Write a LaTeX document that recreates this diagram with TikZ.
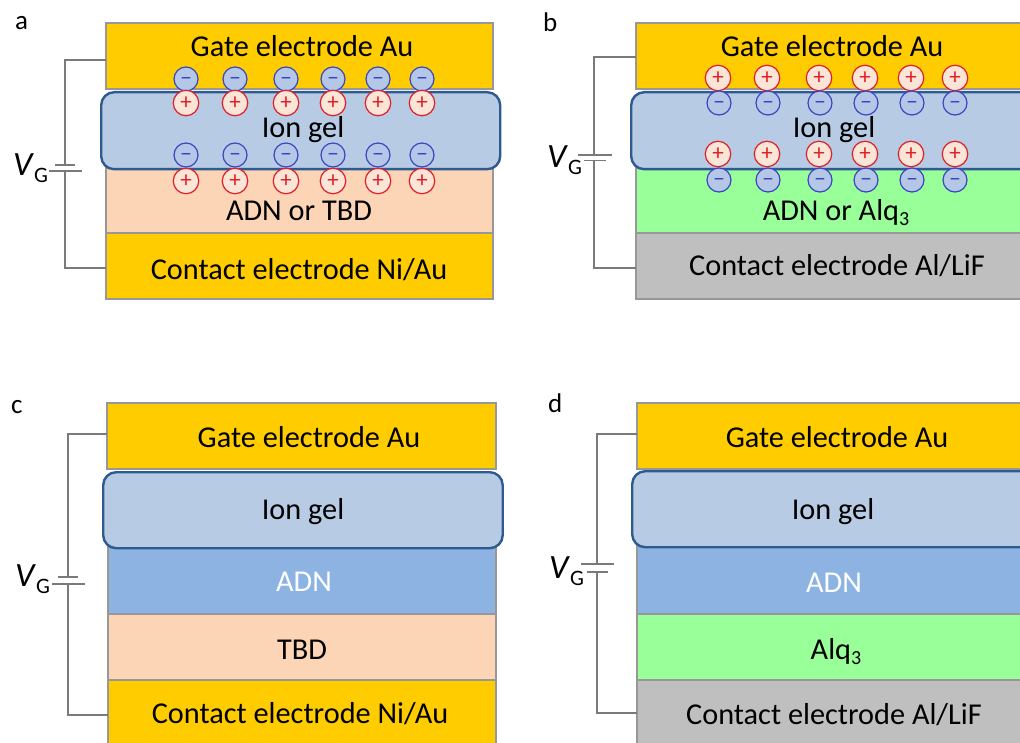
\documentclass[tikz,border=0pt]{standalone}
\usepackage{fontspec}
\setmainfont{Carlito}
\definecolor{gold}{HTML}{FFCC00}
\definecolor{gelfill}{HTML}{B7CBE4}
\definecolor{geledge}{HTML}{2F5A8F}
\definecolor{peach}{HTML}{FBD5B5}
\definecolor{mint}{HTML}{99FF99}
\definecolor{greylayer}{HTML}{BFBFBF}
\definecolor{adnblue}{HTML}{8DB3E2}
\definecolor{edgegrey}{HTML}{989898}
\definecolor{wiregrey}{HTML}{7A7A7A}
\definecolor{ionred}{HTML}{E0202A}
\definecolor{ionblue}{HTML}{3A45C0}
\definecolor{posfill}{HTML}{FBE5D6}
\definecolor{negfill}{HTML}{B4C7E7}
\tikzset{
  x=1pt,y=-1pt,
  layer/.style={draw=edgegrey,line width=1.1pt,inner sep=0pt,outer sep=0pt,anchor=north west},
  gel/.style={draw=geledge,fill=gelfill,line width=2.4pt,rounded corners=13pt,inner sep=0pt,anchor=north west},
  wire/.style={draw=wiregrey,line width=1.5pt},
  plate/.style={draw=wiregrey,line width=1.8pt},
  txt/.style={anchor=base,inner sep=0pt,yshift=-1.5pt,font=\fontsize{30.3}{32}\selectfont},
  lab/.style={anchor=base west,inner sep=0pt,font=\fontsize{27}{30}\selectfont},
  posion/.style={circle,draw=ionred,fill=posfill,text=ionred,line width=1.2pt,minimum size=25.5pt,inner sep=0pt,font=\fontsize{23}{23}\selectfont},
  negion/.style={circle,draw=ionblue,fill=negfill,text=ionblue,line width=1.2pt,minimum size=24pt,inner sep=0pt,font=\fontsize{23}{23}\selectfont},
}
\newcommand{\vg}{{\fontsize{34}{34}\selectfont\textit{V}}\raisebox{-7pt}{\fontsize{22}{22}\selectfont G}}
\newcommand{\subthree}{\raisebox{-5pt}{\fontsize{20}{20}\selectfont 3}}
\newcommand{\lay}[6]{\node[layer,fill=#6,minimum width=#4pt-#2pt,minimum height=#5pt-#3pt] (#1) at (#2,#3) {};}
\newcommand{\gellay}[5]{\node[gel,minimum width=#4pt-#2pt,minimum height=#5pt-#3pt] (#1) at (#2,#3) {};}
\newcommand{\posions}[3]{\foreach \px [count=\i] in {#3} {\node[posion] (#1\i) at (\px,#2) {\vphantom{+}+};}}
\newcommand{\negions}[3]{\foreach \px [count=\i] in {#3} {\node[negion] (#1\i) at (\px,#2) {\vphantom{+}−};}}
\begin{document}
\begin{tikzpicture}
\useasboundingbox (0,0) rectangle (1020,743);
\clip (0,0) rectangle (1020,743);
% ---- panel a
\lay{agate}{106}{23}{493}{89}{gold}
\lay{aorg}{106}{168}{493}{233}{peach}
\lay{acon}{106}{233}{493}{299}{gold}
\gellay{agel}{100}{91}{499}{168}
\coordinate (abt) at (65,165); \coordinate (abb) at (65,171);
\draw[wire] ([yshift=-4pt]agate.west) -| (abt);
\draw[wire] (abb) |- ([yshift=-2pt]acon.west);
\draw[plate] ([xshift=-10pt]abt) -- ([xshift=10pt]abt);
\draw[plate] ([xshift=-16pt]abb) -- ([xshift=17pt]abb);
\negions{an}{79}{186,235,286,333,378,422}
\posions{ap}{103}{186,235,286,333,378,422}
\negions{am}{155}{186,235,286,333,378,422}
\posions{aq}{181}{186,235,286,333,378,422}
\node[txt] (agt) at (302,55) {Gate electrode Au};
\node[txt] (agl) at (303,136) {Ion gel};
\node[txt] (aot) at (299,219) {ADN or TBD};
\node[txt] (act) at (299,278) {Contact electrode Ni/Au};
\node[lab] (avg) at (13,176) {\vg};
\node[lab] (ala) at (15,30) {a};
% ---- panel b
\lay{bgate}{636}{23}{1040}{89}{gold}
\lay{borg}{636}{168}{1040}{233}{mint}
\lay{bcon}{636}{233}{1040}{299}{greylayer}
\gellay{bgel}{630}{91}{1045}{168}
\coordinate (bbt) at (594,155); \coordinate (bbb) at (594,160.5);
\draw[wire] ([yshift=-1pt]bgate.west) -| (bbt);
\draw[wire] (bbb) |- ([yshift=-2pt]bcon.west);
\draw[plate] ([xshift=-16pt]bbt) -- ([xshift=18pt]bbt);
\draw[plate] ([xshift=-10pt]bbb) -- ([xshift=12pt]bbb);
\posions{bn}{78}{718,767,819,865,911,955}
\negions{bp}{103}{719,768,820,866,912,955}
\posions{bm}{154}{718,767,819,865,911,955}
\negions{bq}{180}{719,768,820,866,912,955}
\node[txt] (bgt) at (832,55) {Gate electrode Au};
\node[txt] (bgl) at (834,136) {Ion gel};
\node[txt] (bot) at (836,219) {ADN or Alq\subthree};
\node[txt] (bct) at (837,274) {Contact electrode Al/LiF};
\node[lab] (bvg) at (547,168) {\vg};
\node[lab] (bla) at (543,32) {b};
% ---- panel c
\lay{cgate}{107}{403}{496}{469}{gold}
\lay{cadn}{108}{547}{496}{614}{adnblue}
\lay{corg}{108}{614}{496}{680}{peach}
\lay{ccon}{108}{680}{496}{760}{gold}
\gellay{cgel}{102}{471}{501.5}{547}
\coordinate (cbt) at (68,577); \coordinate (cbb) at (68,584);
\draw[wire] ([yshift=2pt]cgate.west) -| (cbt);
\draw[wire] (cbb) |- ([yshift=5pt]ccon.west);
\draw[plate] ([xshift=-10pt]cbt) -- ([xshift=10pt]cbt);
\draw[plate] ([xshift=-16pt]cbb) -- ([xshift=17pt]cbb);
\node[txt] (cgt) at (309,446) {Gate electrode Au};
\node[txt] (cgl) at (303,518) {Ion gel};
\node[txt,text=white] (cat) at (304,590) {ADN};
\node[txt] (cot) at (302,658) {TBD};
\node[txt] (cct) at (300,722) {Contact electrode Ni/Au};
\node[lab] (cvg) at (15,586) {\vg};
\node[lab] (cla) at (11,413) {c};
% ---- panel d
\lay{dgate}{637}{403}{1040}{469}{gold}
\lay{dadn}{637}{546}{1040}{614}{adnblue}
\lay{dorg}{637}{614}{1040}{680}{mint}
\lay{dcon}{637}{680}{1040}{760}{greylayer}
\gellay{dgel}{631}{470}{1045}{546}
\coordinate (dbt) at (597,564); \coordinate (dbb) at (597,572);
\draw[wire] ([yshift=2pt]dgate.west) -| (dbt);
\draw[wire] (dbb) |- ([yshift=7pt]dcon.west);
\draw[plate] ([xshift=-16pt]dbt) -- ([xshift=17pt]dbt);
\draw[plate] ([xshift=-10pt]dbb) -- ([xshift=11pt]dbb);
\node[txt] (dgt) at (837,446) {Gate electrode Au};
\node[txt] (dgl) at (833,518) {Ion gel};
\node[txt,text=white] (dat) at (834,591) {ADN};
\node[txt] (dot) at (836,658) {Alq\subthree};
\node[txt] (dct) at (834,723) {Contact electrode Al/LiF};
\node[lab] (dvg) at (549,578) {\vg};
\node[lab] (dla) at (548,412) {d};
\end{tikzpicture}
\end{document}
